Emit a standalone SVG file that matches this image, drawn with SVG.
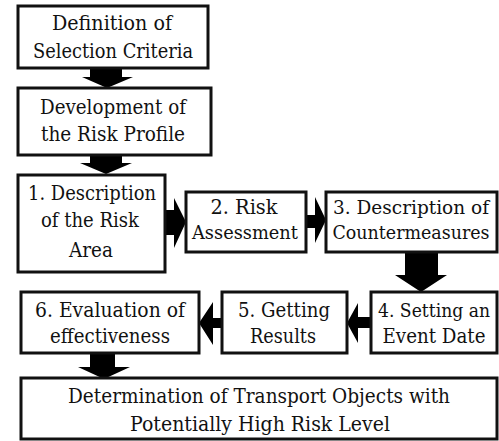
<svg xmlns="http://www.w3.org/2000/svg" width="499" height="441" viewBox="0 0 499 441">
<style>
.box{fill:#fff;stroke:#111;stroke-width:3}
text{font-family:'DejaVu Serif',serif;font-size:20px;fill:#111;text-anchor:middle}
text.s{font-size:18px}
.arr{fill:#000}
</style>
<rect width="499" height="441" fill="#fff"/>
<g id="connectors">
<polygon class="arr" points="90,68 122,68 122,77 133,77 107,88 82,77 90,77"/>
<polygon class="arr" points="90,155 122,155 122,163 132,163 106,174 80,163 90,163"/>
<polygon class="arr" points="165,210 174,210 174,198 186,222 174,248 174,235 165,235"/>
<polygon class="arr" points="306,215 315,215 315,197 326,220 315,243 315,228 306,228"/>
<polygon class="arr" points="405,252 438,252 438,275 447,275 421,292 395,275 405,275"/>
<polygon class="arr" points="371,317 358,317 358,303 347,323 358,343 358,328 371,328"/>
<polygon class="arr" points="222,318 213,318 213,302 199,323 213,345 213,328 222,328"/>
<polygon class="arr" points="90,353 115,353 115,367 130,367 104,379 78,367 90,367"/>
</g>
<g id="n1"><rect class="box" x="18" y="6" width="190" height="62"/><text x="112" y="30" textLength="120" lengthAdjust="spacingAndGlyphs">Definition of</text><text x="113" y="58" textLength="160" lengthAdjust="spacingAndGlyphs">Selection Criteria</text></g>
<g id="n2"><rect class="box" x="18" y="88" width="193" height="67"/><text x="113" y="114" textLength="146" lengthAdjust="spacingAndGlyphs">Development of</text><text x="113" y="141" textLength="144" lengthAdjust="spacingAndGlyphs">the Risk Profile</text></g>
<g id="n3"><rect class="box" x="18" y="175" width="147" height="97"/><text x="92" y="200" textLength="128" lengthAdjust="spacingAndGlyphs">1. Description</text><text x="90" y="227" textLength="98" lengthAdjust="spacingAndGlyphs">of the Risk</text><text x="91" y="257" textLength="44" lengthAdjust="spacingAndGlyphs">Area</text></g>
<g id="n4"><rect class="box" x="186" y="192" width="120" height="60"/><text x="244" y="214" textLength="67" lengthAdjust="spacingAndGlyphs">2. Risk</text><text class="s" x="245" y="239" textLength="106" lengthAdjust="spacingAndGlyphs">Assessment</text></g>
<g id="n5"><rect class="box" x="326" y="192" width="171" height="60"/><text class="s" x="411" y="214" textLength="156" lengthAdjust="spacingAndGlyphs">3. Description of</text><text class="s" x="411" y="239" textLength="157" lengthAdjust="spacingAndGlyphs">Countermeasures</text></g>
<g id="n6"><rect class="box" x="371" y="292" width="126" height="61"/><text class="s" x="434" y="317" textLength="112" lengthAdjust="spacingAndGlyphs">4. Setting an</text><text x="434" y="343" textLength="103" lengthAdjust="spacingAndGlyphs">Event Date</text></g>
<g id="n7"><rect class="box" x="222" y="292" width="125" height="61"/><text x="284" y="317" textLength="92" lengthAdjust="spacingAndGlyphs">5. Getting</text><text x="283" y="343" textLength="66" lengthAdjust="spacingAndGlyphs">Results</text></g>
<g id="n8"><rect class="box" x="21" y="292" width="178" height="61"/><text x="110" y="317" textLength="150" lengthAdjust="spacingAndGlyphs">6. Evaluation of</text><text x="110" y="343" textLength="120" lengthAdjust="spacingAndGlyphs">effectiveness</text></g>
<g id="n9"><rect class="box" x="21" y="378" width="476" height="61"/><text x="259" y="403" textLength="382" lengthAdjust="spacingAndGlyphs">Determination of Transport Objects with</text><text x="260" y="431" textLength="260" lengthAdjust="spacingAndGlyphs">Potentially High Risk Level</text></g>
</svg>
